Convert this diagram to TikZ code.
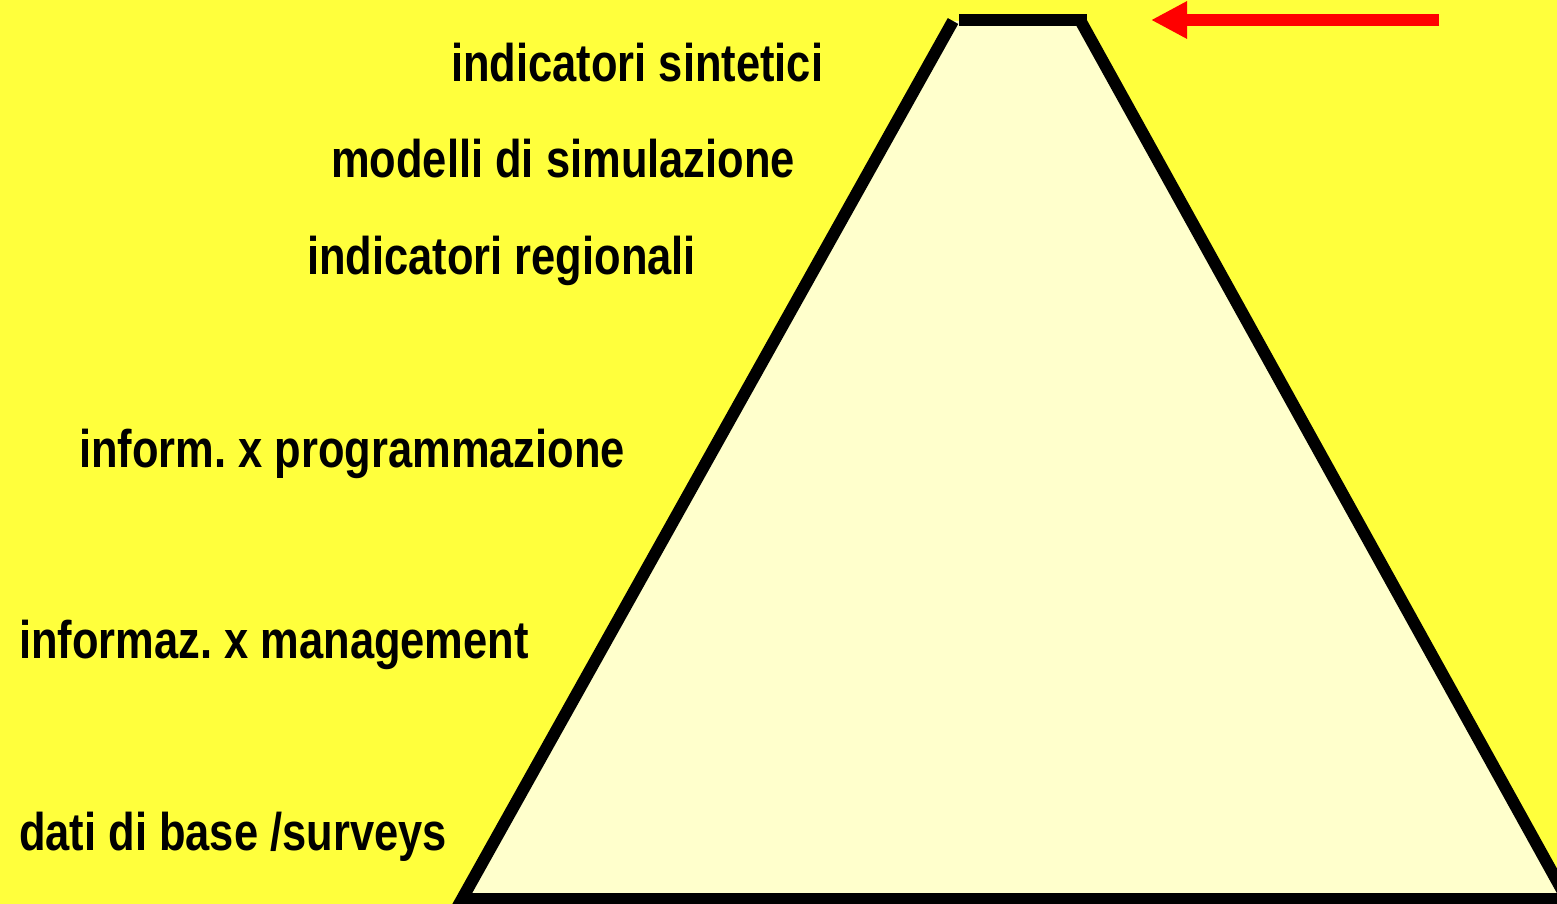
\documentclass[tikz,border=0pt]{standalone}
\usepackage{fontspec}
\setmainfont{Liberation Sans}[FakeStretch=0.82]
\usepackage{tikz}
\usetikzlibrary{arrows.meta,positioning}
\frenchspacing

\definecolor{bgyellow}{RGB}{255,255,60}
\definecolor{paleyellow}{RGB}{255,255,204}

\begin{document}
\begin{tikzpicture}[
  x=1pt,y=-1pt,
  lbl/.style={anchor=base west,inner sep=0pt,font=\fontsize{53}{60}\selectfont\bfseries},
  edge/.style={line width=12pt,black,line join=miter},
  arr/.style={-{Triangle[length=36pt,width=35pt]},line width=12pt,red}
]
\useasboundingbox (0,0) rectangle (1557,904);
\fill[bgyellow] (0,0) rectangle (1557,904);

% pyramid
\coordinate (tl) at (953,21);
\coordinate (tr) at (1080,20);
\coordinate (bl) at (462,899);
\coordinate (br) at (1567,899);
\coordinate (capl) at (959,20);
\coordinate (capr) at (1087,20);
\fill[paleyellow] (tl)--(tr)--(br)--(bl)--cycle;
\draw[edge] (tl)--(bl)--(br)--(tr);
\draw[edge] (capl)--(capr);

% levels
\node[lbl] (sint) at (451,82) {indicatori sintetici};
\node[lbl] (simul) at (331,178) {modelli di simulazione};
\node[lbl] (regio) at (307,274) {indicatori regionali};
\node[lbl] (progr) at (79,467) {inform. x programmazione};
\node[lbl] (manag) at (19,658) {informaz. x management};
\node[lbl] (base) at (19,850) {dati di base /surveys};

% pointer to the top
\coordinate (arrs) at (1439,20);
\coordinate (arre) at (1151,20);
\draw[arr] (arrs)--(arre);
\end{tikzpicture}
\end{document}
